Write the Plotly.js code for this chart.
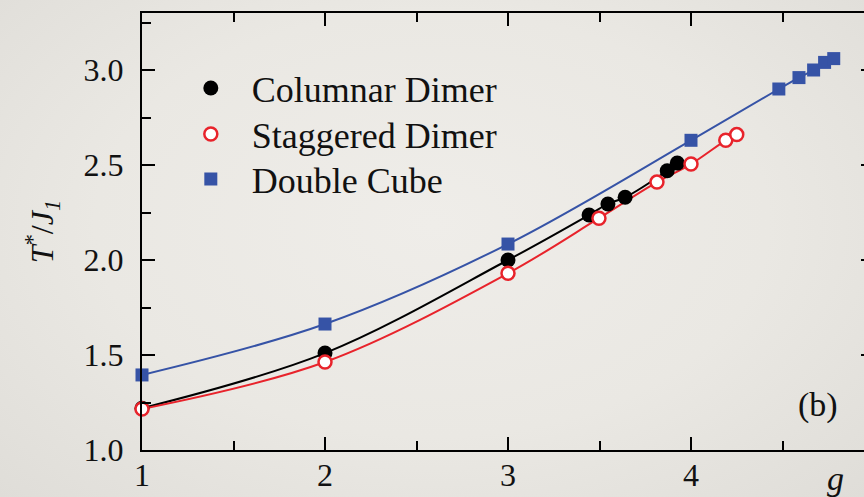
<!DOCTYPE html>
<html>
<head>
<meta charset="utf-8">
<script src="https://cdn.plot.ly/plotly-3.0.1.min.js"></script>
<style>
html,body{margin:0;padding:0;overflow:hidden;width:864px;height:497px;}
body{background:radial-gradient(ellipse at 50% 45%, #efede9 0%, #eae8e3 55%, #dfddd8 100%);}
#plot{width:876px;height:497px;}
</style>
</head>
<body>
<div id="plot"></div>
<script>
// Columnar Dimer (black filled circles)
const colX = [1, 2, 3, 3.443, 3.546, 3.64, 3.87, 3.925];
const colY = [1.22, 1.51, 2.0, 2.237, 2.295, 2.33, 2.47, 2.51];
// Staggered Dimer (red open circles)
const stgX = [1, 2, 3, 3.497, 3.814, 4.0, 4.19, 4.25];
const stgY = [1.216, 1.463, 1.93, 2.22, 2.41, 2.505, 2.63, 2.66];
// Double Cube (blue squares)
const dcX = [1, 2, 3, 4, 4.48, 4.59, 4.67, 4.73, 4.78];
const dcY = [1.395, 1.663, 2.084, 2.63, 2.9, 2.96, 3.0, 3.04, 3.06];

const names = ['Columnar Dimer', 'Staggered Dimer', 'Double Cube'];
const yTicks = [1.0, 1.5, 2.0, 2.5, 3.0];
const yTickText = ['1.0', '1.5', '2.0', '2.5', '3.0'];
const xTicks = [1, 2, 3, 4];
const xTickText = ['1', '2', '3', '4'];

const BLUE = '#3653a6', RED = '#e8232b', BLACK = '#000000';
const FONT = 'Liberation Serif, Times New Roman, serif';

const lineTrace = (x, y, c) => ({
  x, y, type: 'scatter', mode: 'lines', showlegend: false, hoverinfo: 'skip',
  line: {color: c, width: 2, shape: 'spline', smoothing: 1}, cliponaxis: false
});

const traces = [
  lineTrace(dcX, dcY, BLUE),
  lineTrace(colX, colY, BLACK),
  lineTrace(stgX, stgY, RED),
  {x: dcX, y: dcY, type: 'scatter', mode: 'markers', name: names[2], legend: 'legend3',
   marker: {symbol: 'square', size: 13, color: BLUE}, cliponaxis: false},
  {x: colX, y: colY, type: 'scatter', mode: 'markers', name: names[0], legend: 'legend',
   marker: {symbol: 'circle', size: 15, color: BLACK}, cliponaxis: false},
  {x: stgX, y: stgY, type: 'scatter', mode: 'markers', name: names[1], legend: 'legend2',
   marker: {symbol: 'circle', size: 13, color: '#ffffff', line: {color: RED, width: 2.5}}, cliponaxis: false}
];

const legendBase = (y) => ({x: 0.038, y: y, xanchor: 'left', yanchor: 'middle', bgcolor: 'rgba(0,0,0,0)',
  font: {family: FONT, size: 36, color: '#111'}, itemwidth: 72});

const axisCommon = {
  showline: true, linecolor: '#000', linewidth: 2, mirror: 'ticks',
  ticks: 'inside', ticklen: 13, tickwidth: 2, tickcolor: '#000',
  showgrid: false, zeroline: false,
  tickfont: {family: FONT, size: 32, color: '#111'}
};

const layout = {
  width: 876, height: 497,
  margin: {l: 142, r: 2, t: 13, b: 47},
  paper_bgcolor: 'rgba(0,0,0,0)', plot_bgcolor: 'rgba(0,0,0,0)',
  showlegend: true,
  legend: legendBase(0.828),
  legend2: legendBase(0.723),
  legend3: legendBase(0.620),
  xaxis: Object.assign({}, axisCommon, {
    range: [1, 5], tickmode: 'array', tickvals: xTicks, ticktext: xTickText,
    minor: {dtick: 0.5, ticks: 'inside', ticklen: 9, tickwidth: 2, tickcolor: '#000', showgrid: false},
    ticklabelstandoff: -4
  }),
  yaxis: Object.assign({}, axisCommon, {
    range: [1, 3.3], tickmode: 'array', tickvals: yTicks, ticktext: yTickText,
    minor: {dtick: 0.25, ticks: 'inside', ticklen: 9, tickwidth: 2, tickcolor: '#000', showgrid: false},
    ticklabelstandoff: 10,
    title: {text: '<i>T</i><sup>*</sup>/<i>J</i><sub><i>1</i></sub>', font: {family: FONT, size: 32, color: '#111'}, standoff: 20}
  }),
  annotations: [
    {text: '<i>g</i>', xref: 'x', yref: 'paper', x: 4.79, y: -0.065, xanchor: 'center', yanchor: 'middle',
     showarrow: false, font: {family: FONT, size: 34, color: '#111'}},
    {text: '(b)', xref: 'x', yref: 'y', x: 4.694, y: 1.237, xanchor: 'center', yanchor: 'middle',
     showarrow: false, font: {family: FONT, size: 34, color: '#111'}}
  ]
};

Plotly.newPlot('plot', traces, layout, {displayModeBar: false, staticPlot: true});
</script>
</body>
</html>
